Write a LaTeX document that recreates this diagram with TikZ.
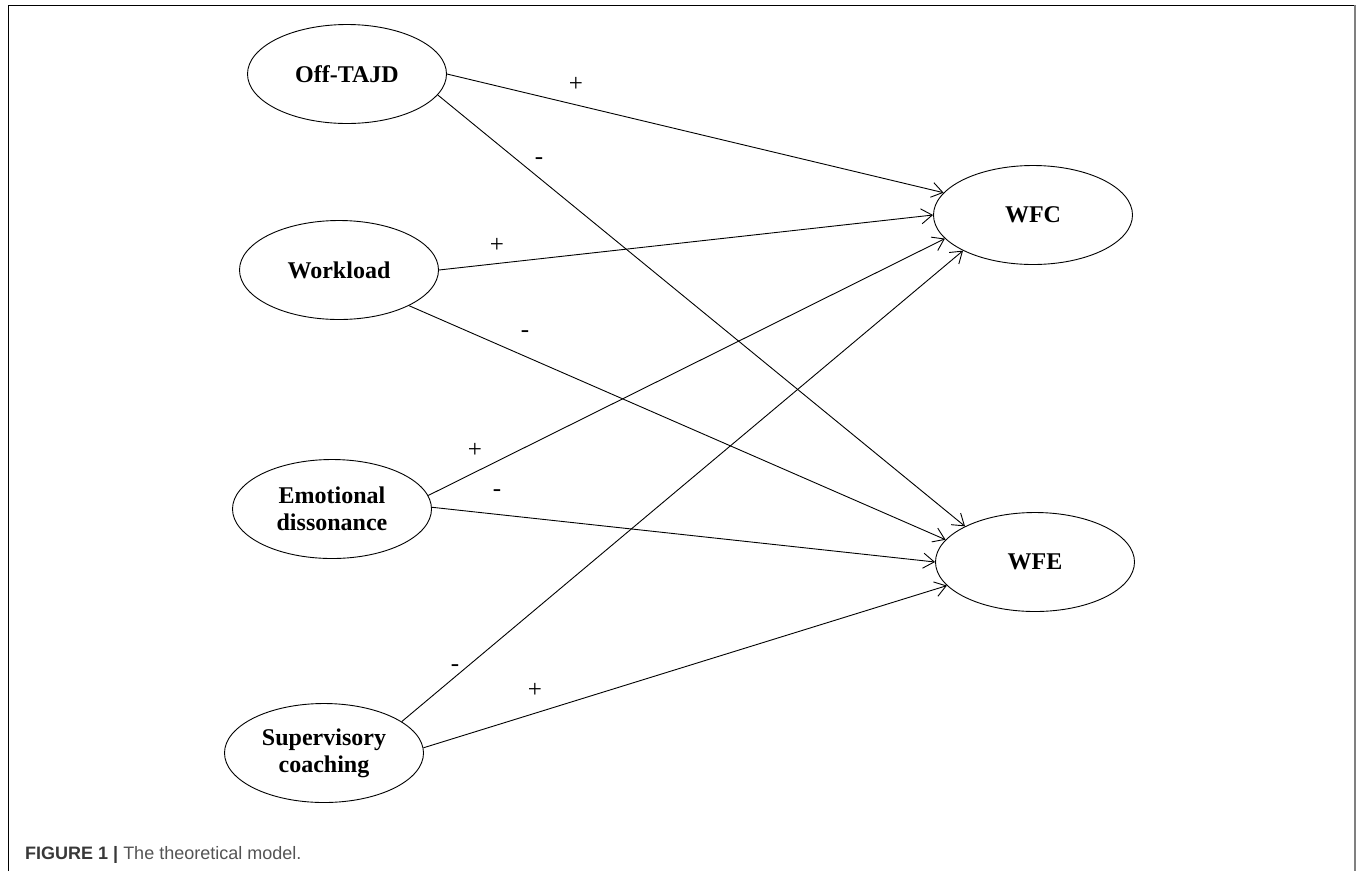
\documentclass[tikz,border=0pt]{standalone}
\usepackage{fontspec}
\setmainfont{Liberation Serif}
\newfontfamily\capfont{Liberation Sans}
\usepackage{xcolor}
\usepackage{tikz}
\usetikzlibrary{arrows.meta,shapes.geometric}

\definecolor{capdark}{gray}{0.22}
\definecolor{captext}{gray}{0.33}
\definecolor{framegray}{gray}{0.5}

\tikzset{
    latent/.style={ellipse, draw, line width=0.9pt, minimum width=199pt, minimum height=99pt,
        inner sep=0pt, align=center, font=\bfseries\fontsize{24}{27}\selectfont},
    path/.style={line width=0.9pt, -{Straight Barb[length=11pt,width=15pt,line width=0.9pt]}},
    sign/.style={font=\fontsize{25}{25}\selectfont, inner sep=0pt}
}

\begin{document}
\begin{tikzpicture}[x=1pt,y=-1pt]
    \useasboundingbox (0,0) rectangle (1357,871);

    \draw[line width=1pt] (8,871) -- (8,5) -- (1355,5);
    \draw[line width=2pt, framegray] (1355,5) -- (1355,871);

    \node[latent] (off)  at (347,74)  {Off-TAJD};
    \node[latent] (work) at (339,270) {Workload};
    \node[latent] (emo)  at (332,509) {Emotional\\dissonance};
    \node[latent] (sup)  at (324,753) {Supervisory\\coaching};
    \node[latent] (wfc)  at (1033,215) {WFC};
    \node[latent] (wfe)  at (1035,562) {WFE};

    \draw[path] (off.0)   -- (wfc.166);
    \draw[path] (off.-13) -- (wfe.153);
    \draw[path] (work.0)  -- (wfc.180);
    \draw[path] (work.-27) -- (wfe.166);
    \draw[path] (emo.8)   -- (wfc.195);
    \draw[path] (emo.1)   -- (wfe.180);
    \draw[path] (sup.22)  -- (wfc.207);
    \draw[path] (sup.3)   -- (wfe.195);

    \node[sign] (s1) at (576,84)  {+};
    \node[sign] (s2) at (539,161) {-};
    \node[sign] (s3) at (497,245) {+};
    \node[sign] (s4) at (525,334) {-};
    \node[sign] (s5) at (475,450) {+};
    \node[sign] (s6) at (497,493) {-};
    \node[sign] (s7) at (455,668) {-};
    \node[sign] (s8) at (535,690) {+};

    \node[anchor=base west, inner sep=0pt, font=\capfont\fontsize{18}{20}\selectfont, text=captext]
        (caption) at (25,859) {\textcolor{capdark}{\bfseries FIGURE 1 |} The theoretical model.};
\end{tikzpicture}
\end{document}
